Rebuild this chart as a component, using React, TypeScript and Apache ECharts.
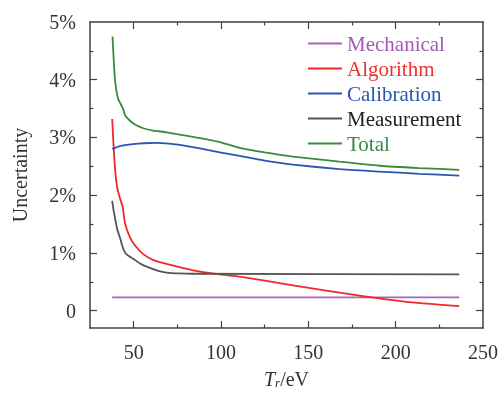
import React, { useEffect, useRef } from "react";
import * as echarts from "echarts";

const mechT = [37.7, 236.4];
const mechV = [0.23, 0.23];
const algoT = [37.7, 38.5, 39.3, 40.5, 42.1, 43.7, 45, 47.9, 51, 55.5, 61, 68.8, 84, 99.3, 110.7, 141.2, 179.3, 206, 236.4];
const algoV = [3.32, 2.85, 2.47, 2.15, 1.95, 1.8, 1.52, 1.27, 1.12, 0.98, 0.88, 0.81, 0.7, 0.63, 0.59, 0.44, 0.26, 0.154, 0.08];
const calT = [37.7, 42.1, 49.7, 56, 63.1, 70, 76.4, 87.9, 99.3, 110.7, 125, 141.2, 167.9, 190.7, 213.6, 236.4];
const calV = [2.8, 2.85, 2.885, 2.9, 2.905, 2.895, 2.87, 2.81, 2.74, 2.68, 2.6, 2.53, 2.45, 2.41, 2.37, 2.34];
const measT = [37.7, 38.5, 39.3, 40.5, 42.1, 43.5, 45, 47, 49.7, 54, 59.3, 64, 68.8, 76, 84, 236.4];
const measV = [1.9, 1.74, 1.61, 1.42, 1.27, 1.12, 1.01, 0.95, 0.9, 0.81, 0.74, 0.69, 0.66, 0.645, 0.64, 0.63];
const totT = [37.9, 38.6, 39.3, 40.2, 41.2, 42.6, 44, 45, 47.9, 51, 55.5, 61, 68.8, 84, 99.3, 110.7, 125, 141.2, 167.9, 190.7, 213.6, 236.4];
const totV = [4.75, 4.33, 4.0, 3.8, 3.66, 3.58, 3.49, 3.39, 3.29, 3.22, 3.16, 3.12, 3.09, 3.01, 2.92, 2.82, 2.74, 2.67, 2.58, 2.51, 2.47, 2.44];

const seriesNames = ["Mechanical", "Algorithm", "Calibration", "Measurement", "Total"];
const seriesColors = ["#b060c0", "#f02828", "#2a55b0", "#555555", "#3a8a42"];
const legendTextColors = ["#a558b5", "#f03030", "#2a55b0", "#222222", "#3a8a42"];

const xMajor = [50, 100, 150, 200];
const xMinor = [75, 125, 175, 225];
const xLabels = [50, 100, 150, 200, 250];
const yMajor = [0, 1, 2, 3, 4];
const yMinor = [0.5, 1.5, 2.5, 3.5, 4.5];
const yLabels = [0, 1, 2, 3, 4, 5];

const FONT = "Liberation Serif";
const AX = "#404040";

function zip(t: number[], v: number[]) {
  return t.map((x, i) => [x, v[i]]);
}

export default function App() {
  const ref = useRef<HTMLDivElement>(null);
  useEffect(() => {
    if (!ref.current) return;
    const chart = echarts.init(ref.current, undefined, { renderer: "svg" });
    const xBase = (pos: string, ticks: number[], len: number, line: boolean, labels: boolean, extra: any = {}) => ({
      type: "value",
      min: 25,
      max: 250,
      position: pos,
      axisLine: { show: line, onZero: false, lineStyle: { color: AX, width: 1.5 } },
      axisTick: { show: true, inside: true, length: len, customValues: ticks, lineStyle: { color: AX, width: 1.2 } },
      axisLabel: labels
        ? { show: true, customValues: xLabels, margin: 14, fontFamily: FONT, fontSize: 20, color: "#333" }
        : { show: false },
      splitLine: { show: false },
      ...extra,
    });
    const yBase = (pos: string, ticks: number[], len: number, line: boolean, labels: boolean, extra: any = {}) => ({
      type: "value",
      min: -0.3,
      max: 5,
      position: pos,
      axisLine: { show: line, onZero: false, lineStyle: { color: AX, width: 1.5 } },
      axisTick: { show: true, inside: true, length: len, customValues: ticks, lineStyle: { color: AX, width: 1.2 } },
      axisLabel: labels
        ? {
            show: true,
            customValues: yLabels,
            margin: 14,
            fontFamily: FONT,
            fontSize: 20,
            color: "#333",
            formatter: (v: number) => (v === 0 ? "0" : v + "%"),
          }
        : { show: false },
      splitLine: { show: false },
      ...extra,
    });
    const datas = [zip(mechT, mechV), zip(algoT, algoV), zip(calT, calV), zip(measT, measV), zip(totT, totV)];
    chart.setOption({
      animation: false,
      grid: { left: 90, right: 18, top: 22, bottom: 62 },
      legend: {
        orient: "vertical",
        left: 303,
        top: 28,
        itemWidth: 34,
        itemHeight: 2,
        itemGap: 4,
        icon: "rect",
        textStyle: { fontFamily: FONT, fontSize: 21 },
        data: seriesNames.map((n, i) => ({ name: n, textStyle: { color: legendTextColors[i] } })),
      },
      xAxis: [
        xBase("bottom", xMajor, 7, true, true, {
          name: "{i|T}{s|r}{n|/eV}",
          nameLocation: "middle",
          nameGap: 40,
          nameTextStyle: {
            rich: {
              i: { fontFamily: FONT, fontSize: 20, fontStyle: "italic", color: "#333" },
              s: { fontFamily: FONT, fontSize: 13, fontStyle: "italic", color: "#333", verticalAlign: "bottom", padding: [8, 0, 0, 0] },
              n: { fontFamily: FONT, fontSize: 20, color: "#333" },
            },
          },
        }),
        xBase("bottom", xMinor, 3.5, false, false),
        xBase("top", xMajor, 7, true, false),
        xBase("top", xMinor, 3.5, false, false),
      ],
      yAxis: [
        yBase("left", yMajor, 7, true, true, {
          name: "Uncertainty",
          nameLocation: "middle",
          nameGap: 60,
          nameTextStyle: { fontFamily: FONT, fontSize: 20, color: "#333" },
        }),
        yBase("left", yMinor, 3.5, false, false),
        yBase("right", yMajor, 7, true, false),
        yBase("right", yMinor, 3.5, false, false),
      ],
      series: seriesNames.map((n, i) => ({
        name: n,
        type: "line",
        xAxisIndex: 0,
        yAxisIndex: 0,
        data: datas[i],
        showSymbol: false,
        symbol: "none",
        smooth: 0.15,
        lineStyle: { color: seriesColors[i], width: 1.8 },
        itemStyle: { color: seriesColors[i] },
      })),
    });
    return () => chart.dispose();
  }, []);
  return <div ref={ref} style={{ position: "fixed", left: 0, top: 0, width: 501, height: 394 }} />;
}
